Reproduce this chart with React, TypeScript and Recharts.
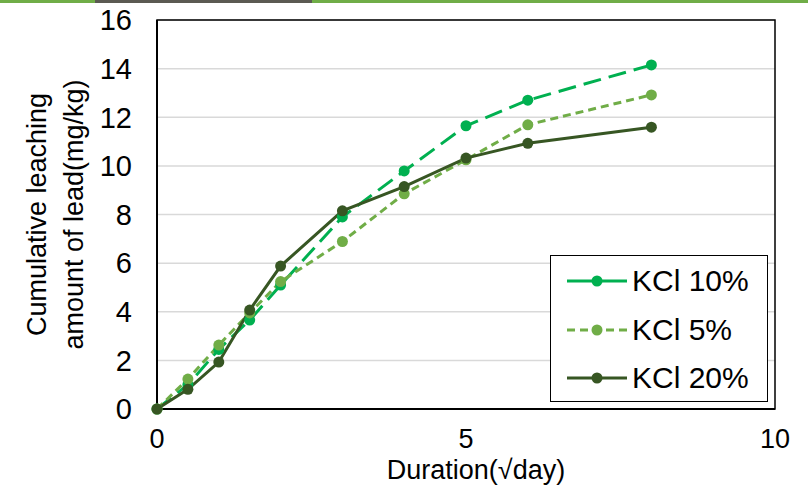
import { LineChart, Line, XAxis, YAxis, CartesianGrid, Legend, ReferenceArea } from 'recharts';

// x = √day, y = cumulative leaching of lead (mg/kg)
const durations = [0, 0.5, 1, 1.5, 2, 3, 4, 5, 6, 8];
const kcl10 = [0, 1.0, 2.45, 3.66, 5.1, 7.9, 9.79, 11.65, 12.7, 14.15];
const kcl5 = [0, 1.23, 2.63, 3.95, 5.24, 6.89, 8.85, 10.25, 11.69, 12.92];
const kcl20 = [0, 0.81, 1.93, 4.07, 5.88, 8.15, 9.15, 10.32, 10.93, 11.59];
const xTicks = [0, 5, 10];
const yTicks = [0, 2, 4, 6, 8, 10, 12, 14, 16];

const FONT = '"Liberation Sans", Arial, sans-serif';

const series = [
  { key: 'kcl10', name: 'KCl 10%', color: '#00b050', dash: '18 8', legendDash: undefined },
  { key: 'kcl5', name: 'KCl 5%', color: '#70ad47', dash: '8 5', legendDash: '8 5' },
  { key: 'kcl20', name: 'KCl 20%', color: '#375623', dash: undefined, legendDash: undefined },
];

const data = durations.map((d, i) => ({
  duration: d,
  kcl10: kcl10[i],
  kcl5: kcl5[i],
  kcl20: kcl20[i],
}));

function LegendBox() {
  return (
    <div
      style={{
        border: '1.5px solid #000',
        background: '#fff',
        width: 218,
        height: 147,
        boxSizing: 'border-box',
        padding: '1px 0 0 15px',
        fontFamily: FONT,
      }}
    >
      {series.map((s) => (
        <div key={s.key} style={{ display: 'flex', alignItems: 'center', height: 48.5 }}>
          <svg width={62} height={14}>
            <line x1={1} x2={61} y1={7} y2={7} stroke={s.color} strokeWidth={3} strokeDasharray={s.legendDash} />
            <circle cx={31} cy={7} r={5.5} fill={s.color} />
          </svg>
          <span style={{ marginLeft: 4, fontSize: 30, color: '#000', lineHeight: 1 }}>{s.name}</span>
        </div>
      ))}
    </div>
  );
}

function yTitle(props: any) {
  const vb = props.viewBox || { x: 0, y: 20, width: 157, height: 389 };
  const cx = 64;
  const cy = vb.y + vb.height / 2;
  return (
    <text
      transform={`rotate(-90, ${cx}, ${cy})`}
      textAnchor="middle"
      fontSize={27}
      fontFamily={FONT}
      fill="#000"
    >
      <tspan x={cx} y={cy - 18.5}>Cumulative leaching</tspan>
      <tspan x={cx} y={cy + 18.5}>amount of lead(mg/kg)</tspan>
    </text>
  );
}

function xTitle(props: any) {
  const vb = props.viewBox || { x: 157, y: 409, width: 618, height: 85 };
  return (
    <text x={vb.x + vb.width / 2 + 10} y={vb.y + 70} textAnchor="middle" fontSize={27} fontFamily={FONT} fill="#000">
      Duration(√day)
    </text>
  );
}

export default function App() {
  return (
    <div style={{ position: 'absolute', top: 0, left: 0, width: 808, height: 494, background: '#fff' }}>
      <div style={{ position: 'absolute', top: 0, left: 0, width: 808, height: 3, background: '#70ad47' }} />
      <div style={{ position: 'absolute', top: 0, left: 95, width: 217, height: 3, background: '#5b5a52' }} />
      <LineChart
        width={808}
        height={494}
        data={data}
        margin={{ top: 20, right: 33, bottom: 0, left: 0 }}
      >
        <CartesianGrid horizontal vertical={false} stroke="#d9d9d9" strokeWidth={1.5} />
        <XAxis
          dataKey="duration"
          type="number"
          domain={[0, 10]}
          ticks={xTicks}
          height={85}
          tickSize={0}
          tickMargin={20}
          axisLine={{ stroke: '#000', strokeWidth: 2 }}
          tick={{ fill: '#000', fontSize: 27, fontFamily: FONT }}
          label={xTitle}
        />
        <YAxis
          type="number"
          domain={[0, 16]}
          ticks={yTicks}
          width={157}
          tickSize={0}
          tickMargin={25}
          axisLine={{ stroke: '#000', strokeWidth: 2 }}
          tick={{ fill: '#000', fontSize: 29, fontFamily: FONT }}
          label={yTitle}
        />
        <ReferenceArea x1={0} x2={10} y1={0} y2={16} fill="none" fillOpacity={0} stroke="#000" strokeWidth={1.5} />
        {series.map((s) => (
          <Line
            key={s.key}
            dataKey={s.key}
            name={s.name}
            type="linear"
            stroke={s.color}
            strokeWidth={3}
            strokeDasharray={s.dash}
            dot={{ r: 5.5, fill: s.color, stroke: s.color, strokeWidth: 0, strokeDasharray: '' }}
            isAnimationActive={false}
          />
        ))}
        <Legend
          layout="vertical"
          align="center"
          verticalAlign="middle"
          wrapperStyle={{ left: 550, top: 255, width: 218 }}
          content={() => <LegendBox />}
        />
      </LineChart>
    </div>
  );
}
